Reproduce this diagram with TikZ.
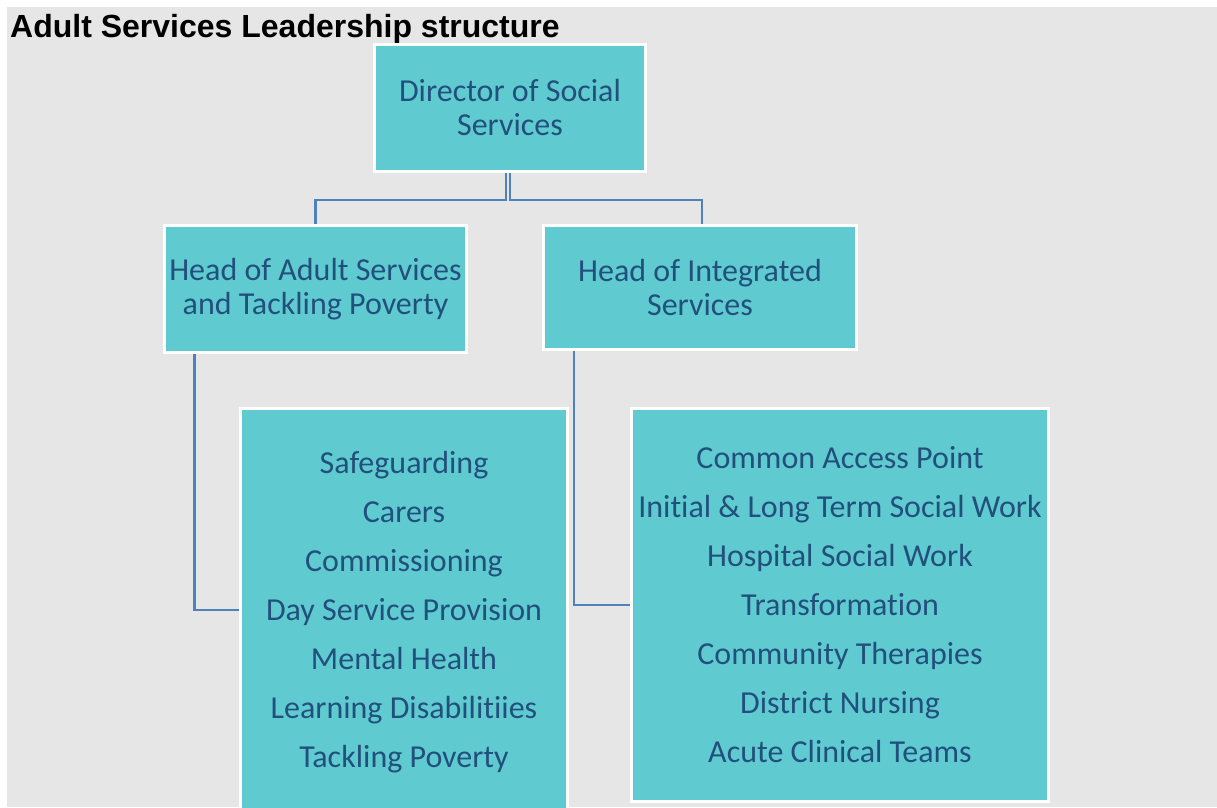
\documentclass[tikz,border=0pt]{standalone}
\usepackage{fontspec}
\newfontfamily\titlefont{Liberation Sans}
\newfontfamily\boxfont{Carlito}[RawFeature={-liga}]
\usetikzlibrary{backgrounds}
\definecolor{bgGrey}{HTML}{E6E6E6}
\definecolor{boxFill}{HTML}{5FCBD0}
\definecolor{boxText}{HTML}{22507C}
\definecolor{connBlue}{HTML}{4F81BD}
\tikzset{
  orgbox/.style={draw=white, line width=3pt, fill=boxFill, text=boxText, align=center,
    inner sep=0pt, font=\boxfont\fontsize{32}{34}\selectfont},
  listbox/.style={orgbox, font=\boxfont\fontsize{32}{49}\selectfont},
  conn/.style={draw=connBlue, line width=2.8pt},
  titletext/.style={font=\titlefont\bfseries\fontsize{32}{36}\selectfont, text=black, inner sep=0pt, anchor=base west}
}
\begin{document}
\begin{tikzpicture}[x=1pt,y=-1pt]
\useasboundingbox (0,0) rectangle (1217,807);
\begin{scope}
\clip (0,0) rectangle (1217,807);
\node[titletext] (title) at (10,37) {Adult Services Leadership structure};
\node[orgbox, minimum width=271pt, minimum height=127pt] (dir) at (510,108) {Director of Social\\Services};
\node[orgbox, minimum width=302pt, minimum height=127pt] (hadult) at (315.5,289) {Head of Adult Services\\and Tackling Poverty};
\node[orgbox, minimum width=313pt, minimum height=124pt] (hint) at (700,287.5) {Head of Integrated\\Services};
\node[listbox, minimum width=327pt, minimum height=407pt] (llist) at (404,612) {Safeguarding\\Carers\\Commissioning\\Day Service Provision\\Mental Health\\Learning Disabilitiies\\Tackling Poverty};
\node[listbox, minimum width=417pt, minimum height=393pt] (rlist) at (840,605) {Common Access Point\\Initial \& Long Term Social Work\\Hospital Social Work\\Transformation\\Community Therapies\\District Nursing\\Acute Clinical Teams};
\begin{scope}[on background layer]
\fill[bgGrey] (7,7) rectangle (1217,807);
\draw[conn] ([xshift=-4pt]dir.south) -- ++(0,27) -| (hadult.north);
\draw[conn] ([xshift=0pt]dir.south) -- ++(0,27) -| ([xshift=2pt]hint.north);
\draw[conn] ([xshift=-121pt]hadult.south) |- ([yshift=2pt]llist.west);
\draw[conn] ([xshift=-126pt]hint.south) |- (rlist.west);
\end{scope}
\end{scope}
\end{tikzpicture}
\end{document}
